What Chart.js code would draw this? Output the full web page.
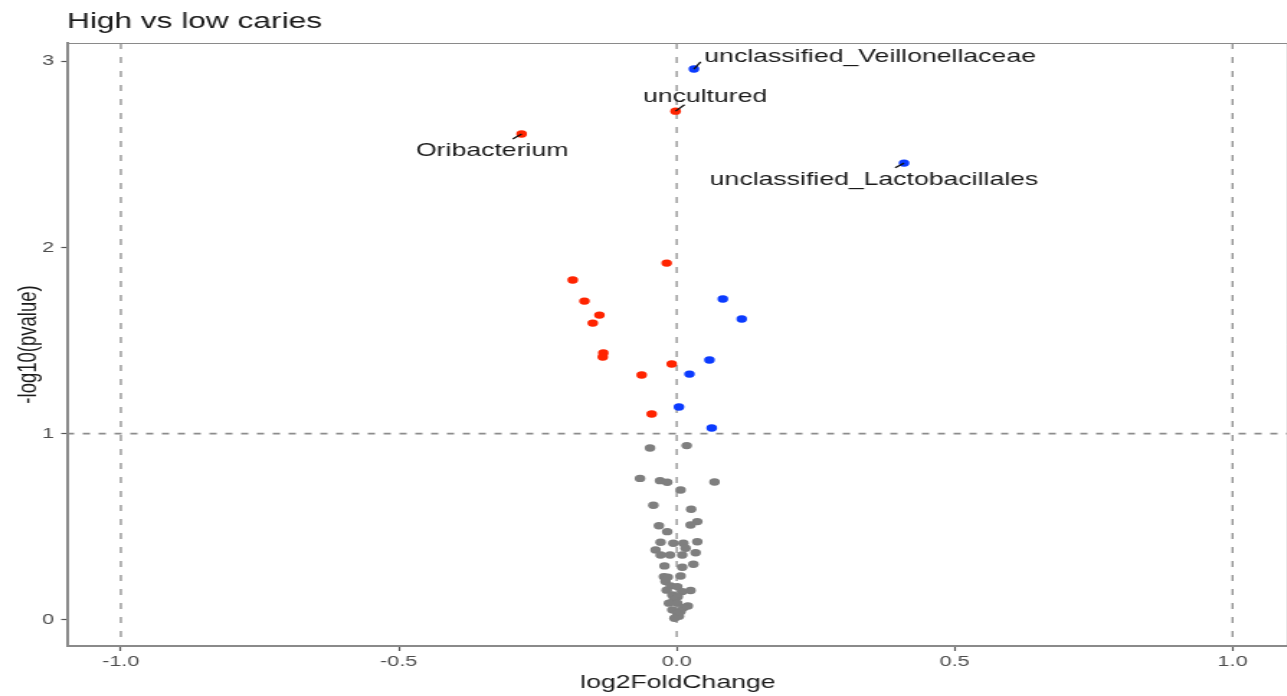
<!DOCTYPE html>
<html>
<head>
<meta charset="utf-8">
<script src="https://cdn.jsdelivr.net/npm/chart.js@4/dist/chart.umd.min.js"></script>
<style>
  html, body { margin: 0; padding: 0; background: #fff; overflow: hidden; }
  /* the reference is stretched sideways (about 1.44x), so the drawing is widened;
     Chart.js keeps ~5px free on the right, which falls just outside the window */
  #plot { display: block; width: 1294.2px !important; height: 696px !important; }
</style>
</head>
<body>
<canvas id="plot" width="899" height="696"></canvas>
<script>
// values: [log2FoldChange, -log10(pvalue)]
const upPoints = [
  [0.031, 2.958], [0.409, 2.453], [0.083, 1.723], [0.117, 1.616],
  [0.059, 1.396], [0.023, 1.320], [0.004, 1.143], [0.063, 1.031]
];
const downPoints = [
  [-0.279, 2.609], [-0.002, 2.732], [-0.018, 1.916], [-0.187, 1.825],
  [-0.166, 1.712], [-0.139, 1.637], [-0.151, 1.594], [-0.132, 1.433],
  [-0.133, 1.412], [-0.009, 1.374], [-0.063, 1.315], [-0.045, 1.106]
];
const nsPoints = [
  [-0.048, 0.923], [0.018, 0.936], [-0.066, 0.760], [-0.030, 0.748], [-0.017, 0.739],
  [0.007, 0.698], [0.068, 0.741], [-0.042, 0.616], [0.026, 0.594], [0.037, 0.528],
  [0.025, 0.510], [-0.032, 0.506], [-0.017, 0.474], [-0.029, 0.417], [-0.006, 0.412],
  [0.012, 0.412], [0.037, 0.420], [0.016, 0.385], [-0.038, 0.376], [-0.029, 0.349],
  [-0.012, 0.349], [0.010, 0.349], [0.034, 0.361], [-0.022, 0.290], [0.010, 0.283],
  [0.030, 0.299], [-0.023, 0.232], [0.007, 0.236], [-0.016, 0.230], [-0.020, 0.206],
  [-0.011, 0.183], [0.001, 0.179], [-0.018, 0.160], [0.025, 0.158], [0.010, 0.152],
  [-0.008, 0.134], [0.002, 0.125], [-0.005, 0.110], [-0.014, 0.090], [0.001, 0.090],
  [0.020, 0.075], [0.012, 0.065], [-0.008, 0.054], [0.007, 0.045], [0.001, 0.036],
  [0.004, 0.020], [-0.004, 0.009]
];

const xTicks = [-1, -0.5, 0, 0.5, 1];
const xTickLabels = ['-1.0', '-0.5', '0.0', '0.5', '1.0'];
const yTicks = [0, 1, 2, 3];
const yTickLabels = ['0', '1', '2', '3'];

// threshold lines
const vLines = [-1, 0, 1];
const hLines = [1];

// repelled labels: name, point, text centre, segment end (data units)
const labelNames = ['unclassified_Veillonellaceae', 'uncultured', 'Oribacterium', 'unclassified_Lactobacillales'];
const labelPoints = [[0.031, 2.958], [-0.002, 2.732], [-0.279, 2.609], [0.409, 2.453]];
const labelText = [[0.348, 3.024], [0.051, 2.809], [-0.332, 2.519], [0.355, 2.363]];
const labelEnds = [[0.043, 2.997], [0.014, 2.766], [-0.295, 2.583], [0.393, 2.428]];

const FONT = '"Liberation Sans", Arial, Helvetica, sans-serif';
const toXY = arr => arr.map(p => ({ x: p[0], y: p[1] }));

const refLines = {
  id: 'refLines',
  beforeDatasetsDraw(chart) {
    const { ctx, chartArea: a, scales: { x, y } } = chart;
    ctx.save();
    ctx.beginPath();
    ctx.rect(a.left, a.top, a.right - a.left, a.bottom - a.top);
    ctx.clip();
    ctx.strokeStyle = '#8c8c8c';
    ctx.lineWidth = 1.3;
    ctx.setLineDash([6, 8]);
    vLines.forEach(v => {
      const px = x.getPixelForValue(v);
      ctx.beginPath();
      ctx.moveTo(px, a.top);
      ctx.lineTo(px, a.bottom);
      ctx.stroke();
    });
    ctx.lineWidth = 1.8;
    ctx.setLineDash([5, 6]);
    hLines.forEach(v => {
      const py = y.getPixelForValue(v);
      ctx.beginPath();
      ctx.moveTo(a.left, py);
      ctx.lineTo(a.right, py);
      ctx.stroke();
    });
    ctx.restore();
  }
};

const decorations = {
  id: 'decorations',
  afterDraw(chart) {
    const { ctx, chartArea: a, scales: { x, y } } = chart;
    ctx.save();

    // top and right panel border
    ctx.strokeStyle = '#8a8a8a';
    ctx.lineWidth = 1;
    ctx.beginPath();
    ctx.moveTo(a.left, a.top + 0.5);
    ctx.lineTo(a.right - 0.5, a.top + 0.5);
    ctx.lineTo(a.right - 0.5, a.bottom);
    ctx.stroke();

    // label segments
    ctx.strokeStyle = '#111';
    ctx.lineWidth = 1.3;
    labelPoints.forEach((p, i) => {
      ctx.beginPath();
      ctx.moveTo(x.getPixelForValue(p[0]), y.getPixelForValue(p[1]));
      ctx.lineTo(x.getPixelForValue(labelEnds[i][0]), y.getPixelForValue(labelEnds[i][1]));
      ctx.stroke();
    });

    // label text
    ctx.fillStyle = '#1a1a1a';
    ctx.font = '18.5px ' + FONT;
    ctx.textAlign = 'center';
    ctx.textBaseline = 'middle';
    labelNames.forEach((name, i) => {
      ctx.fillText(name, x.getPixelForValue(labelText[i][0]), y.getPixelForValue(labelText[i][1]));
    });

    // title
    ctx.textAlign = 'left';
    ctx.textBaseline = 'alphabetic';
    ctx.font = '22px ' + FONT;
    ctx.fillText('High vs low caries', a.left, 28);

    // axis titles
    ctx.font = '18.5px ' + FONT;
    ctx.textAlign = 'center';
    ctx.fillText('log2FoldChange', (a.left + a.right) / 2, 688);
    ctx.translate(20, (a.top + a.bottom) / 2);
    ctx.rotate(-Math.PI / 2);
    ctx.textBaseline = 'middle';
    ctx.fillText('-log10(pvalue)', 0, 0);
    ctx.restore();
  }
};

const pointStyle = color => ({
  pointRadius: 3.7,
  pointHoverRadius: 3.7,
  pointBorderWidth: 0,
  backgroundColor: color,
  borderColor: color
});

new Chart(document.getElementById('plot'), {
  type: 'scatter',
  data: {
    datasets: [
      { label: 'ns', data: toXY(nsPoints), ...pointStyle('#7f7f7f') },
      { label: 'down', data: toXY(downPoints), ...pointStyle('#ff2400') },
      { label: 'up', data: toXY(upPoints), ...pointStyle('#0b3bff') }
    ]
  },
  options: {
    responsive: false,
    animation: false,
    devicePixelRatio: 1,
    layout: { padding: { top: 43, right: 0, bottom: 0, left: 0 } },
    plugins: { legend: { display: false }, tooltip: { enabled: false }, title: { display: false } },
    scales: {
      x: {
        type: 'linear',
        min: -1.097,
        max: 1.101,
        afterFit: s => { s.height = 50; s.paddingLeft = 0; s.paddingRight = 0; },
        afterBuildTicks: s => { s.ticks = xTicks.map(v => ({ value: v })); },
        ticks: {
          callback: (v, i) => xTickLabels[i],
          color: '#4d4d4d',
          font: { family: FONT, size: 15 },
          padding: 2,
          maxRotation: 0,
          autoSkip: false
        },
        grid: { drawOnChartArea: false, drawTicks: true, tickLength: 5, tickColor: '#555', tickWidth: 1.2 },
        border: { color: '#8a8a8a', width: 2 }
      },
      y: {
        type: 'linear',
        min: -0.14,
        max: 3.098,
        afterFit: s => { s.width = 46.5; s.paddingTop = 0; s.paddingBottom = 0; },
        afterBuildTicks: s => { s.ticks = yTicks.map(v => ({ value: v })); },
        ticks: {
          callback: (v, i) => yTickLabels[i],
          color: '#4d4d4d',
          font: { family: FONT, size: 15 },
          padding: 5,
          autoSkip: false
        },
        grid: { drawOnChartArea: false, drawTicks: true, tickLength: 4, tickColor: '#555', tickWidth: 1.2 },
        border: { color: '#8a8a8a', width: 2 }
      }
    }
  },
  plugins: [refLines, decorations]
});
</script>
</body>
</html>
